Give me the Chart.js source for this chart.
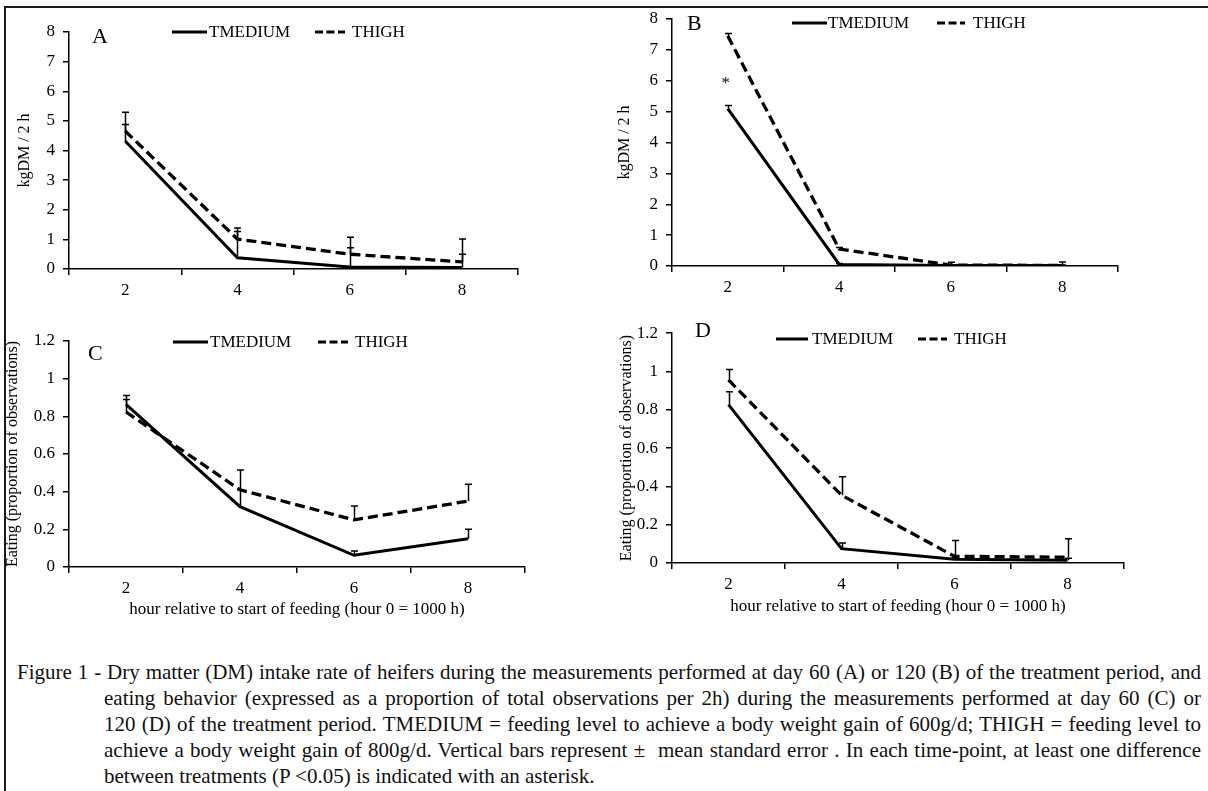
<!DOCTYPE html>
<html><head><meta charset="utf-8">
<script src="https://cdn.jsdelivr.net/npm/chart.js@4.4.1/dist/chart.umd.min.js"></script>
<style>
html,body{margin:0;padding:0;background:#fff;}
body{width:1208px;height:791px;position:relative;overflow:hidden;font-family:"Liberation Serif","Times New Roman",serif;}
canvas{position:absolute;}
#frameTop{position:absolute;left:4px;top:6px;width:1204px;height:2px;background:#1a1a1a;}
#frameLeft{position:absolute;left:4px;top:6px;width:2px;height:785px;background:#1a1a1a;}
.cap{position:absolute;left:17px;width:1184px;top:659px;font-size:21px;line-height:26px;color:#111;}
.cap div{white-space:nowrap;text-align:justify;text-align-last:justify;overflow:hidden;}
.cap div.ind{padding-left:87px;}
.cap div.last{text-align-last:left;}
</style></head>
<body>
<div id="frameTop"></div><div id="frameLeft"></div>
<canvas id="cA" width="600" height="315" style="left:0;top:0;width:600px;height:315px"></canvas>
<canvas id="cB" width="608" height="315" style="left:600px;top:0;width:608px;height:315px"></canvas>
<canvas id="cC" width="600" height="330" style="left:0;top:315px;width:600px;height:330px"></canvas>
<canvas id="cD" width="608" height="330" style="left:600px;top:315px;width:608px;height:330px"></canvas>
<div class="cap" id="cap">
<div>Figure 1 - Dry matter (DM) intake rate of heifers during the measurements performed at day 60 (A) or 120 (B) of the treatment period, and</div>
<div class="ind">eating behavior (expressed as a proportion of total observations per 2h) during the measurements performed at day 60 (C) or</div>
<div class="ind">120 (D) of the treatment period. TMEDIUM = feeding level to achieve a body weight gain of 600g/d; THIGH = feeding level to</div>
<div class="ind">achieve a body weight gain of 800g/d. Vertical bars represent ±&nbsp; mean standard error . In each time-point, at least one difference</div>
<div class="ind last">between treatments (P &lt;0.05) is indicated with an asterisk.</div>
</div>
<script>
// ---- data ----
const hours = ['2', '4', '6', '8'];
const seriesNames = ['TMEDIUM', 'THIGH'];
const yTicksIntake = ['0', '1', '2', '3', '4', '5', '6', '7', '8'];
const yTicksEating = ['0', '0.2', '0.4', '0.6', '0.8', '1', '1.2'];

const intakeD60_TMEDIUM = [4.32, 0.38, 0.07, 0.05];
const intakeD60_THIGH = [4.66, 1.01, 0.50, 0.24];
const intakeD60_TMEDIUM_se = [0.56, 0.89, 0.65, 0.45];
const intakeD60_THIGH_se = [0.63, 0.37, 0.57, 0.77];

const intakeD120_TMEDIUM = [5.10, 0.05, 0.02, 0.02];
const intakeD120_THIGH = [7.45, 0.55, 0.03, 0.02];
const intakeD120_TMEDIUM_se = [0.10, 0.03, 0.01, 0.01];
const intakeD120_THIGH_se = [0.08, 0.05, 0.09, 0.11];
const intakeD120_asterisk = [6.0, null, null, null];

const eatingD60_TMEDIUM = [0.864, 0.32, 0.062, 0.15];
const eatingD60_THIGH = [0.823, 0.41, 0.25, 0.35];
const eatingD60_TMEDIUM_se = [0.046, 0.09, 0.023, 0.05];
const eatingD60_THIGH_se = [0.067, 0.105, 0.074, 0.09];

const eatingD120_TMEDIUM = [0.827, 0.075, 0.02, 0.015];
const eatingD120_THIGH = [0.956, 0.354, 0.035, 0.03];
const eatingD120_TMEDIUM_se = [0.067, 0.03, 0.01, 0.01];
const eatingD120_THIGH_se = [0.055, 0.096, 0.082, 0.097];

const yTitleIntake = 'kgDM / 2 h';
const yTitleEating = 'Eating (proportion of observations)';
const xTitle = 'hour relative to start of feeding (hour 0 = 1000 h)';

// ---- caption fit (shrink font only if a line would overflow) ----
(function fitCaption() {
  const cap = document.getElementById('cap');
  let size = 21;
  const overflow = () => Array.from(cap.children).some(d => d.scrollWidth > d.clientWidth + 0.5);
  while (overflow() && size > 16) { size -= 0.25; cap.style.fontSize = size + 'px'; }
})();

// ---- drawing ----
const FONT = '"Liberation Serif", "Times New Roman", serif';
Chart.defaults.font.family = FONT;
Chart.defaults.color = '#000';

const figPlugin = {
  id: 'fig',
  afterDatasetsDraw(chart, args, opts) {
    const ctx = chart.ctx, xs = chart.scales.x, ys = chart.scales.y;
    ctx.save();
    ctx.setLineDash([]);
    ctx.strokeStyle = '#000';
    ctx.lineWidth = 1.5;
    chart.data.datasets.forEach(ds => {
      if (!ds.se) return;
      ds.data.forEach((v, i) => {
        if (v == null || ds.se[i] == null) return;
        const px = Math.round(xs.getPixelForValue(i)) + 0.5;
        const y0 = ys.getPixelForValue(v), y1 = ys.getPixelForValue(v + ds.se[i]);
        ctx.beginPath();
        ctx.moveTo(px, y0); ctx.lineTo(px, y1);
        ctx.moveTo(px - 3.5, y1); ctx.lineTo(px + 3.5, y1);
        ctx.stroke();
      });
    });
    ctx.fillStyle = '#000';
    if (opts.asterisk) {
      ctx.font = '17px ' + FONT;
      ctx.textAlign = 'center'; ctx.textBaseline = 'middle';
      opts.asterisk.forEach((v, i) => {
        if (v == null) return;
        ctx.fillText('*', xs.getPixelForValue(i) - 2, ys.getPixelForValue(v) + 3);
      });
    }
    ctx.font = '22px ' + FONT;
    ctx.textAlign = 'left'; ctx.textBaseline = 'middle';
    ctx.fillText(opts.letter, opts.letterX, opts.letterY);
    const lg = opts.legend;
    ctx.font = '17px ' + FONT;
    chart.data.datasets.forEach((ds, i) => {
      const it = lg.items[i];
      ctx.beginPath();
      ctx.lineWidth = 3;
      ctx.setLineDash(i === 0 ? [] : [8, 3.5]);
      ctx.moveTo(it.x0, lg.y); ctx.lineTo(it.x1, lg.y);
      ctx.stroke();
      ctx.setLineDash([]);
      ctx.fillText(ds.label, it.tx, lg.y + 1);
    });
    ctx.restore();
  }
};

function makeChart(id, c) {
  const tickFont = {family: FONT, size: 17};
  return new Chart(document.getElementById(id), {
    type: 'line',
    data: {
      labels: hours,
      datasets: [
        {label: seriesNames[0], data: c.med, se: c.medSe, borderColor: '#000', borderWidth: 3, pointRadius: 0, tension: 0},
        {label: seriesNames[1], data: c.high, se: c.highSe, borderColor: '#000', borderWidth: 3.3, pointRadius: 0, tension: 0, borderDash: [10, 5]}
      ]
    },
    options: {
      responsive: false, animation: false, devicePixelRatio: 1,
      layout: {padding: c.pad},
      plugins: {legend: {display: false}, tooltip: {enabled: false}, fig: c.fig},
      scales: {
        x: {
          type: 'category', offset: true,
          grid: {offset: true, drawOnChartArea: false, color: '#000', lineWidth: 1.5, tickLength: 6},
          border: {color: '#000', width: 1.5},
          ticks: {color: '#000', font: tickFont, padding: 5, maxRotation: 0, autoSkip: false},
          title: c.xTitle ? {display: true, text: c.xTitle, color: '#000', font: {family: FONT, size: 17}, padding: {top: 0, bottom: c.xtp}} : {display: false},
          afterFit(s) { s.height = c.xH; }
        },
        y: {
          min: 0, max: c.max,
          ticks: {stepSize: c.step, color: '#000', font: tickFont, padding: 8, callback: (v, i) => c.tickLabels[i]},
          grid: {drawOnChartArea: false, color: '#000', lineWidth: 1.5, tickLength: 6},
          border: {color: '#000', width: 1.5},
          title: {display: true, text: c.yTitle, color: '#000', font: {family: FONT, size: 16}, padding: {top: c.ytp, bottom: 0}},
          afterFit(s) { s.width = c.yW; }
        }
      }
    },
    plugins: [figPlugin]
  });
}

makeChart('cA', {
  med: intakeD60_TMEDIUM, high: intakeD60_THIGH, medSe: intakeD60_TMEDIUM_se, highSe: intakeD60_THIGH_se,
  max: 8, step: 1, tickLabels: yTicksIntake, yTitle: yTitleIntake, ytp: 15.4,
  pad: {left: 0, top: 32, right: 82, bottom: 0}, yW: 69, xH: 46,
  fig: {letter: 'A', letterX: 92, letterY: 37,
        legend: {y: 32, items: [{x0: 172, x1: 207, tx: 209}, {x0: 315, x1: 345, tx: 352}]}}
});
makeChart('cB', {
  med: intakeD120_TMEDIUM, high: intakeD120_THIGH, medSe: intakeD120_TMEDIUM_se, highSe: intakeD120_THIGH_se,
  max: 8, step: 1, tickLabels: yTicksIntake, yTitle: yTitleIntake, ytp: 15.4,
  pad: {left: 0, top: 19, right: 90, bottom: 0}, yW: 72, xH: 49,
  fig: {letter: 'B', letterX: 87, letterY: 24, asterisk: intakeD120_asterisk,
        legend: {y: 23, items: [{x0: 192, x1: 227, tx: 228}, {x0: 337, x1: 365, tx: 373}]}}
});
makeChart('cC', {
  med: eatingD60_TMEDIUM, high: eatingD60_THIGH, medSe: eatingD60_TMEDIUM_se, highSe: eatingD60_THIGH_se,
  max: 1.2, step: 0.2, tickLabels: yTicksEating, yTitle: yTitleEating, ytp: 3.4,
  xTitle: xTitle, xtp: 25,
  pad: {left: 0, top: 26, right: 75, bottom: 0}, yW: 69, xH: 78,
  fig: {letter: 'C', letterX: 88, letterY: 39,
        legend: {y: 27, items: [{x0: 173, x1: 208, tx: 210}, {x0: 318, x1: 348, tx: 355}]}}
});
makeChart('cD', {
  med: eatingD120_TMEDIUM, high: eatingD120_THIGH, medSe: eatingD120_TMEDIUM_se, highSe: eatingD120_THIGH_se,
  max: 1.2, step: 0.2, tickLabels: yTicksEating, yTitle: yTitleEating, ytp: 17.4,
  xTitle: xTitle, xtp: 28,
  pad: {left: 0, top: 9, right: 84, bottom: 0}, yW: 72, xH: 82,
  fig: {letter: 'D', letterX: 95, letterY: 16,
        legend: {y: 24, items: [{x0: 176, x1: 208, tx: 212}, {x0: 318, x1: 347, tx: 354}]}}
});
</script>
</body></html>
